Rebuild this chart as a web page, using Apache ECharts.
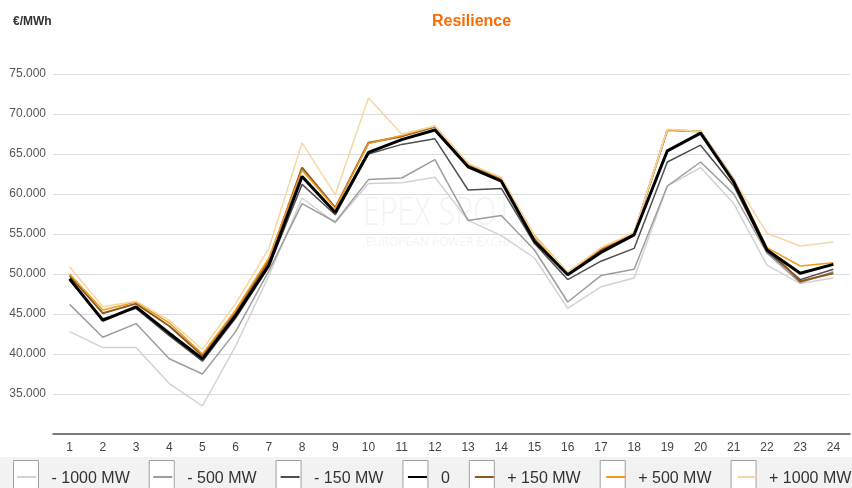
<!DOCTYPE html>
<html>
<head>
<meta charset="utf-8">
<script src="https://cdn.jsdelivr.net/npm/echarts@6/dist/echarts.min.js"></script>
<style>
  html, body { margin: 0; padding: 0; background: #fff; }
  #chart { width: 852px; height: 488px; }
</style>
</head>
<body>
<div id="chart"></div>
<script>
const hours = ['1', '2', '3', '4', '5', '6', '7', '8', '9', '10', '11', '12',
  '13', '14', '15', '16', '17', '18', '19', '20', '21', '22', '23', '24']

const seriesNames = ['- 1000 MW', '- 500 MW', '- 150 MW', '0', '+ 150 MW', '+ 500 MW', '+ 1000 MW']

const minus1000 = [42800, 40800, 40800, 36300, 33500, 41000, 49800, 59500, 56400, 61300, 61400, 62100,
  56700, 54800, 52000, 45700, 48400, 49500, 61000, 63300, 58800, 51100, 48800, 49500]
const minus500 = [46200, 42100, 43800, 39400, 37500, 42800, 50400, 58800, 56500, 61800, 62000, 64300,
  56700, 57300, 53000, 46500, 49800, 50600, 61000, 64000, 60000, 52600, 48900, 50300]
const minus150 = [49200, 44400, 45700, 42300, 39100, 44500, 50900, 61200, 57400, 65000, 66200, 66900,
  60500, 60700, 53800, 49300, 51600, 53200, 64000, 66100, 61000, 52800, 49300, 50600]
const base = [49400, 44200, 45900, 42600, 39400, 44800, 51100, 62200, 57700, 65200, 66800, 68000,
  63400, 61600, 54100, 49900, 52700, 54900, 65400, 67600, 61500, 53000, 50100, 51200]
const plus150 = [49800, 45100, 46300, 43500, 39800, 45200, 51700, 63300, 58300, 66400, 67200, 68400,
  63600, 61900, 54600, 50100, 53000, 55100, 68000, 67800, 61800, 53200, 49100, 50100]
const plus500 = [50000, 45500, 46500, 43900, 40000, 45500, 52000, 63000, 58200, 66300, 67300, 68500,
  63800, 62000, 54800, 50200, 53200, 55100, 68000, 67800, 61700, 53300, 51000, 51400]
const plus1000 = [50900, 45900, 46600, 44200, 40600, 46300, 53200, 66400, 59900, 72000, 67500, 68500,
  63800, 62100, 54700, 50200, 53300, 55200, 68100, 67800, 61800, 55100, 53500, 54000]

const seriesData = [minus1000, minus500, minus150, base, plus150, plus500, plus1000]
const seriesColors = ['#d2d2d2', '#9d9d9d', '#505050', '#000000', '#8c5a1f', '#f09a1c', '#f6d7a4']
const seriesWidths = [1.5, 1.5, 1.5, 3, 2, 1.5, 1.5]

const chart = echarts.init(document.getElementById('chart'))

const fmt = (v) => String(v).replace(/\B(?=(\d{3})+(?!\d))/g, '.')

const font = 'Liberation Sans, Arial, sans-serif'
const legendText = { fontFamily: font, fontSize: 16 }

chart.setOption({
  animation: false,
  title: [
    {
      text: 'Resilience',
      left: 427,
      top: 9,
      textStyle: { color: '#ff6a00', fontSize: 16, fontWeight: 'bold', fontFamily: font },
    },
    {
      text: '€/MWh',
      left: 8,
      top: 11,
      textStyle: { color: '#333', fontSize: 12, fontWeight: 'bold', fontFamily: font },
    },
  ],
  // faint watermark
  graphic: [
    {
      type: 'text',
      left: 363,
      top: 195,
      scaleX: 0.8,
      silent: true,
      style: { text: 'EPEX SPOT', fill: '#f3f3f3', font: '300 38px "Open Sans", sans-serif' },
    },
    {
      type: 'text',
      left: 366,
      top: 237,
      silent: true,
      style: { text: 'EUROPEAN POWER EXCHANGE', fill: '#f3f3f3', font: '12px "Open Sans", sans-serif' },
    },
  ],
  // two stacked legends: white boxes with labels, then the coloured line samples on top
  legend: [
    {
      left: 0,
      top: 457,
      width: 1000,
      padding: [3, 20, 10, 13],
      itemGap: 19,
      itemWidth: 25,
      itemHeight: 36,
      icon: 'rect',
      backgroundColor: '#f2f2f2',
      itemStyle: { color: '#ffffff', borderColor: '#a0a0a0', borderWidth: 1 },
      textStyle: { ...legendText, color: '#333', padding: [0, 0, 0, 8] },
      data: seriesNames,
    },
    {
      left: 3,
      top: 457,
      width: 1000,
      padding: [12, 20, 10, 13],
      itemGap: 19,
      itemWidth: 19,
      itemHeight: 20,
      itemStyle: { color: 'rgba(0,0,0,0)', borderColor: 'rgba(0,0,0,0)', borderWidth: 0 },
      textStyle: { ...legendText, color: 'rgba(0,0,0,0)', padding: [0, 0, 0, 14] },
      data: seriesNames,
    },
  ],
  grid: {
    top: 74,
    bottom: 54,
    left: 53,
    right: 2,
  },
  xAxis: {
    type: 'category',
    data: hours,
    boundaryGap: true,
    axisLine: { lineStyle: { color: '#555', width: 1.5 } },
    axisTick: { show: false },
    axisLabel: { color: '#444', fontSize: 12, margin: 8, fontFamily: font },
  },
  yAxis: {
    type: 'value',
    min: 30000,
    max: 75000,
    interval: 5000,
    axisLine: { show: false },
    axisTick: { show: false },
    axisLabel: {
      color: '#555',
      fontSize: 12,
      margin: 7,
      showMinLabel: false,
      fontFamily: font,
      formatter: fmt,
    },
    splitLine: { lineStyle: { color: '#dcdcdc', width: 1 } },
  },
  series: seriesNames.map((name, i) => ({
    name,
    type: 'line',
    data: seriesData[i],
    symbol: 'none',
    z: name === '0' ? 5 : 2,
    color: seriesColors[i],
    lineStyle: { color: seriesColors[i], width: seriesWidths[i] },
    emphasis: { disabled: true },
  })),
})
</script>
</body>
</html>
